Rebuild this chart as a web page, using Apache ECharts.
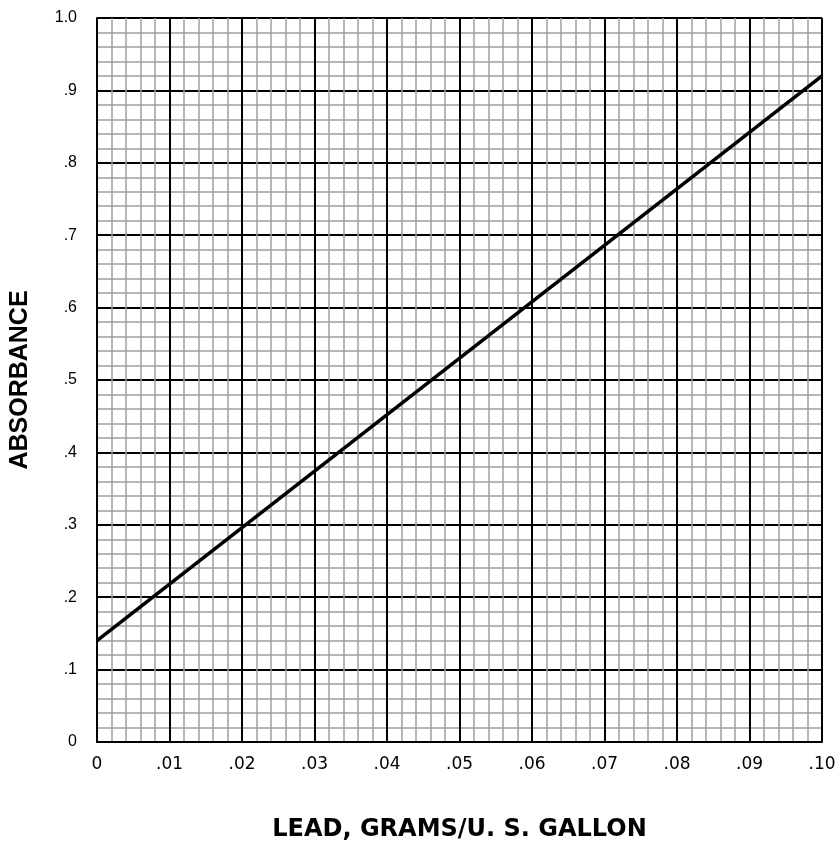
<!DOCTYPE html>
<html lang="en">
<head>
<meta charset="UTF-8">
<title>Absorbance vs Lead</title>
<script src="https://cdn.jsdelivr.net/npm/echarts@6/dist/echarts.min.js"></script>
<style>
  html, body { margin: 0; padding: 0; background: #fff; }
  #chart { width: 840px; height: 849px; }
</style>
</head>
<body>
<div id="chart"></div>
<script type="text/javascript">
  // calibration line: lead (g/US gal) vs absorbance
  var leadValues = [0, 0.10];
  var absorbanceValues = [0.14, 0.92];

  var xTickLabels = ['0', '.01', '.02', '.03', '.04', '.05', '.06', '.07', '.08', '.09', '.10'];
  var yTickLabels = ['0', '.1', '.2', '.3', '.4', '.5', '.6', '.7', '.8', '.9', '1.0'];

  var points = leadValues.map(function (x, i) { return [x, absorbanceValues[i]]; });

  var chart = echarts.init(document.getElementById('chart'));
  chart.setOption({
    animation: false,
    grid: { left: 97, top: 18, width: 725, height: 724 },
    xAxis: {
      type: 'value',
      min: 0, max: 0.1, interval: 0.01,
      name: 'LEAD, GRAMS/U. S. GALLON',
      nameLocation: 'middle',
      nameGap: 76,
      nameTextStyle: { fontFamily: 'DejaVu Sans', fontWeight: 'bold', fontSize: 24, color: '#000' },
      axisLine: { show: true, lineStyle: { color: '#000', width: 2 } },
      axisTick: { show: false },
      axisLabel: {
        margin: 14,
        fontFamily: 'DejaVu Sans', fontSize: 17, color: '#000',
        formatter: function (v) { return xTickLabels[Math.round(v * 100)]; }
      },
      splitLine: { show: true, lineStyle: { color: '#000', width: 2 } },
      minorTick: { show: false, splitNumber: 5 },
      minorSplitLine: { show: true, lineStyle: { color: '#a0a0a0', width: 1.5 } }
    },
    yAxis: {
      type: 'value',
      min: 0, max: 1, interval: 0.1,
      name: 'ABSORBANCE',
      nameLocation: 'middle',
      nameGap: 64,
      nameRotate: 90,
      nameTextStyle: { fontFamily: 'Liberation Sans', fontWeight: 'bold', fontSize: 25, color: '#000' },
      axisLine: { show: true, lineStyle: { color: '#000', width: 2 } },
      axisTick: { show: false },
      axisLabel: {
        margin: 20,
        fontFamily: 'Liberation Sans', fontSize: 16, color: '#000',
        formatter: function (v) { return yTickLabels[Math.round(v * 10)]; }
      },
      splitLine: { show: true, lineStyle: { color: '#000', width: 2 } },
      minorTick: { show: false, splitNumber: 5 },
      minorSplitLine: { show: true, lineStyle: { color: '#a0a0a0', width: 1.5 } }
    },
    series: [{
      type: 'line',
      data: points,
      showSymbol: false,
      lineStyle: { color: '#000', width: 3.5 },
      z: 5
    }]
  });
</script>
</body>
</html>
